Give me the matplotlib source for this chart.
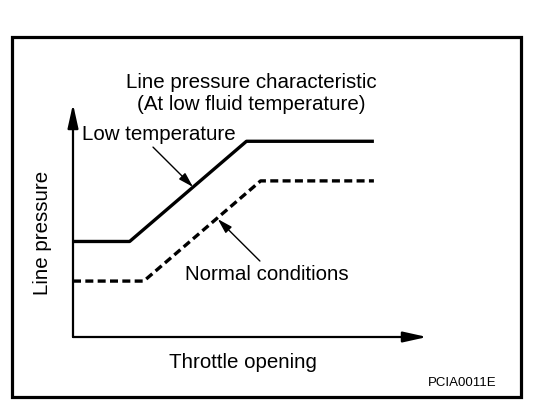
import matplotlib
matplotlib.use('Agg')
import matplotlib.pyplot as plt
from matplotlib.patches import Rectangle

# Line pressure vs throttle opening (arbitrary units, 0-100)
throttle_low = [0, 16, 49, 85]
pressure_low = [41, 41, 84, 84]
throttle_normal = [0, 20, 53, 85]
pressure_normal = [24, 24, 67, 67]

title_lines = ['Line pressure characteristic', '(At low fluid temperature)']
label_low = 'Low temperature'
label_normal = 'Normal conditions'
xlabel = 'Throttle opening'
ylabel = 'Line pressure'
code = 'PCIA0011E'

W, H = 560, 410
plt.rcParams['font.family'] = ['Liberation Sans', 'DejaVu Sans']

fig = plt.figure(figsize=(W / 100, H / 100), dpi=100)
fig.patch.set_facecolor('white')

def fx(px):
	return px / W

def fy(py):
	return 1 - py / H

# outer frame
fig.patches.append(Rectangle((fx(11.5), fy(397.5)), (520.5 - 11.5) / W, (397.5 - 37.5) / H,
	transform=fig.transFigure, fill=False, lw=2.3, edgecolor='black'))

# axes: origin at (73, 338), arrow tips at x=427 and y=105
ax = fig.add_axes([fx(73), fy(338), (427 - 73) / W, (338 - 105) / H])
ax.set_xlim(0, 100)
ax.set_ylim(0, 100)
ax.axis('off')

axis_arrow = dict(arrowstyle='-|>,head_length=0.9,head_width=0.2', lw=1.6, color='black',
	mutation_scale=16, shrinkA=0, shrinkB=0)
ax.annotate('', xy=(1, 0), xytext=(0, 0), xycoords='axes fraction', arrowprops=axis_arrow)
ax.annotate('', xy=(0, 1), xytext=(0, 0), xycoords='axes fraction', arrowprops=axis_arrow)

ax.plot(throttle_low, pressure_low, color='black', lw=2.4, solid_capstyle='butt')
ax.plot(throttle_normal, pressure_normal, color='black', lw=2.4, linestyle=(0, (2.4, 1.3)))

pointer = dict(arrowstyle='-|>,head_length=0.75,head_width=0.22', lw=1.0, color='black',
	mutation_scale=12, shrinkA=0, shrinkB=0)
ax.annotate('', xy=(33.9, 64.4), xytext=(22.6, 81.5), arrowprops=pointer)
ax.annotate('', xy=(40.9, 50.6), xytext=(52.8, 32.6), arrowprops=pointer)

fs = 14.8
fig.text(fx(251), fy(83), title_lines[0], ha='center', va='center', fontsize=fs)
fig.text(fx(251), fy(105), title_lines[1], ha='center', va='center', fontsize=fs)
fig.text(fx(82), fy(134), label_low, ha='left', va='center', fontsize=fs)
fig.text(fx(185), fy(275), label_normal, ha='left', va='center', fontsize=fs)
fig.text(fx(243), fy(363), xlabel, ha='center', va='center', fontsize=fs)
fig.text(fx(43), fy(233), ylabel, ha='center', va='center', fontsize=fs, rotation=90)
fig.text(fx(462), fy(383), code, ha='center', va='center', fontsize=9.5)

fig.savefig('out.png', dpi=100, facecolor='white')
